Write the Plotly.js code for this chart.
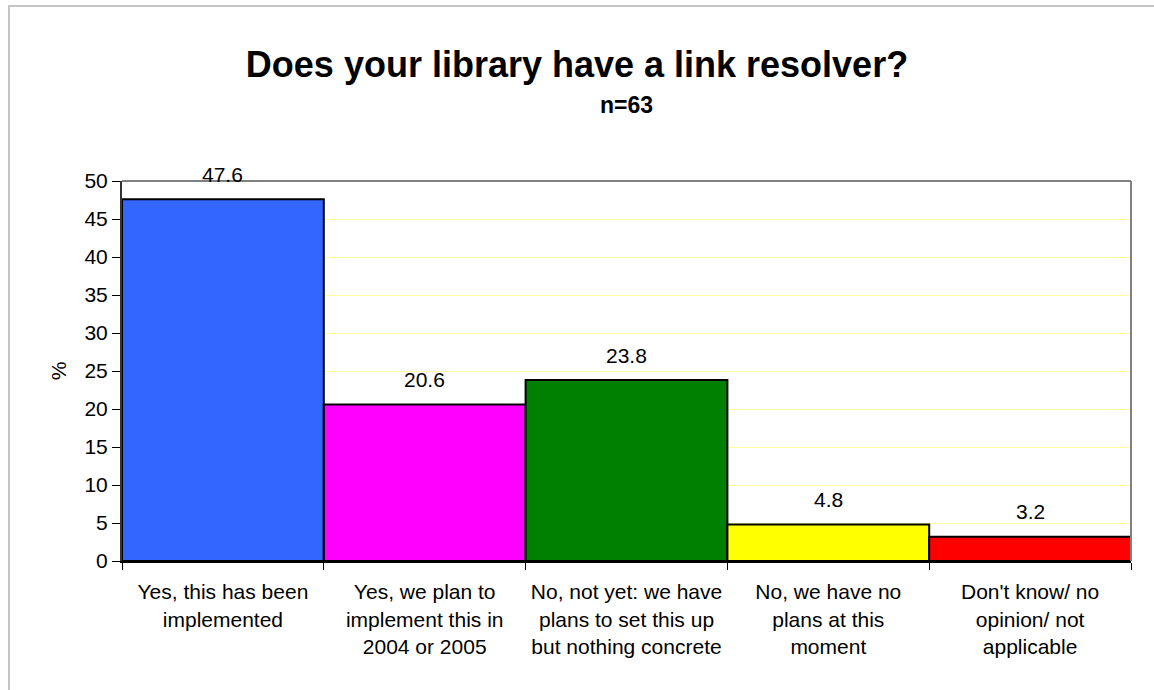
<!DOCTYPE html>
<html>
<head>
<meta charset="utf-8">
<script src="https://cdn.plot.ly/plotly-3.0.1.min.js"></script>
<style>
  html, body { margin: 0; padding: 0; background: #fff; overflow: hidden; }
  #frame { position: absolute; left: 8px; top: 5px; width: 2000px; height: 2000px; border: 2px solid #c4c4c4; box-sizing: border-box; }
  #chart { position: absolute; left: 0; top: 0; width: 1154px; height: 690px; }
</style>
</head>
<body>
<div id="frame"></div>
<div id="chart"></div>
<script>
const categories = [
  "Yes, this has been<br>implemented",
  "Yes, we plan to<br>implement this in<br>2004 or 2005",
  "No, not yet: we have<br>plans to set this up<br>but nothing concrete",
  "No, we have no<br>plans at this<br>moment",
  "Don't know/ no<br>opinion/ not<br>applicable"
];
const values = [47.6, 20.6, 23.8, 4.8, 3.2];
const valueLabels = ["47.6", "20.6", "23.8", "4.8", "3.2"];
const barColors = ["#3366ff", "#ff00ff", "#008000", "#ffff00", "#ff0000"];
const yTicks = [0, 5, 10, 15, 20, 25, 30, 35, 40, 45, 50];
const chartTitle = "Does your library have a link resolver?";
const subTitle = "n=63";
const yTitle = "%";

const font = "Liberation Sans, Arial, sans-serif";

const trace = {
  type: "bar",
  x: categories,
  y: values,
  marker: { color: barColors, line: { color: "#000", width: 2 } },
  hoverinfo: "none"
};

const annotations = categories.map((c, i) => ({
  x: c, y: values[i], xref: "x", yref: "y",
  text: valueLabels[i], showarrow: false,
  yanchor: "middle", yshift: 25,
  font: { family: font, size: 21, color: "#000" }
}));
annotations.push({
  xref: "paper", yref: "paper", x: 0.5, y: (561 - 105) / 380,
  xanchor: "center", yanchor: "middle",
  text: "<b>" + subTitle + "</b>", showarrow: false,
  font: { family: font, size: 23, color: "#000" }
});

const layout = {
  width: 1154, height: 690,
  margin: { l: 122, r: 23, t: 181, b: 129, pad: 0 },
  paper_bgcolor: "rgba(0,0,0,0)",
  plot_bgcolor: "#fff",
  bargap: 0,
  showlegend: false,
  title: {
    text: "<b>" + chartTitle + "</b>",
    x: 0.5, xanchor: "center", xref: "container",
    y: 1 - 64 / 690, yanchor: "middle", yref: "container",
    font: { family: font, size: 36, color: "#000" }
  },
  xaxis: {
    type: "category",
    tickson: "boundaries",
    ticks: "outside", ticklen: 7, tickwidth: 1, tickcolor: "#000",
    ticklabelstandoff: 11,
    showline: true, linecolor: "#000", linewidth: 2,
    showgrid: false,
    tickfont: { family: font, size: 21, color: "#000" },
    fixedrange: true
  },
  yaxis: {
    range: [0, 50],
    tickvals: yTicks,
    ticktext: yTicks.map(String),
    ticks: "outside", ticklen: 8, tickwidth: 1, tickcolor: "#000",
    showline: true, linecolor: "#333", linewidth: 2,
    showgrid: true, gridcolor: "#ffffa0", gridwidth: 1,
    zeroline: false,
    tickfont: { family: font, size: 21, color: "#000" },
    title: { text: yTitle, standoff: 12, font: { family: font, size: 21, color: "#000" } },
    fixedrange: true
  },
  shapes: [
    { type: "line", xref: "paper", yref: "paper", x0: 0, x1: 1, y0: 1, y1: 1, line: { color: "#808080", width: 2 } },
    { type: "line", xref: "paper", yref: "paper", x0: 1, x1: 1, y0: 0, y1: 1, line: { color: "#808080", width: 2 } }
  ],
  annotations: annotations
};

Plotly.newPlot("chart", [trace], layout, { displayModeBar: false, staticPlot: true });
</script>
</body>
</html>
